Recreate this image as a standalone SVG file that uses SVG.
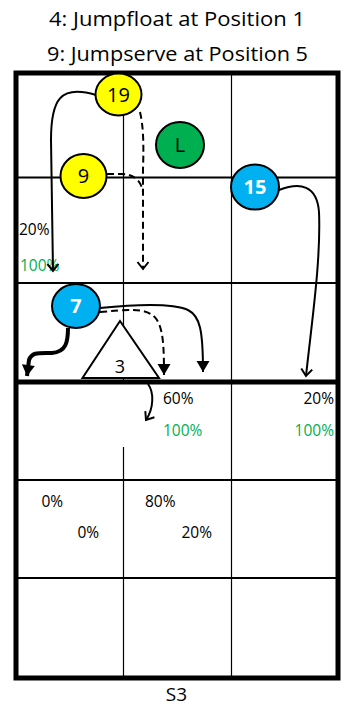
<svg xmlns="http://www.w3.org/2000/svg" width="348" height="707" viewBox="0 0 348 707">
<style>
.t{font-family:"Open Sans","Noto Sans","Liberation Sans",sans-serif;fill:#000}
.title{font-size:19.5px}
.pct{font-size:15.5px}
.g{fill:#00B050}
.num{font-size:20px;text-anchor:middle}
.wb{fill:#fff;font-weight:bold}
.hl{stroke:#000;stroke-width:1.8;fill:none}
.vl{stroke:#000;stroke-width:1.2;fill:none}
.node{stroke:#000;stroke-width:2}
.c{fill:none;stroke:#000;stroke-width:2}
.d{stroke-dasharray:7 4}
</style>
<defs>
<marker id="open" markerUnits="userSpaceOnUse" markerWidth="16" markerHeight="16" viewBox="-10 -8 12 16" refX="0" refY="0" orient="auto">
<path d="M-7,-5.5 L0,0 L-7,5.5" fill="none" stroke="#000" stroke-width="2"/>
</marker>
<marker id="fill" markerUnits="userSpaceOnUse" markerWidth="16" markerHeight="16" viewBox="-12 -8 14 16" refX="0" refY="0" orient="auto">
<path d="M-11,-6.5 L0,0 L-11,6.5 Z" fill="#000"/>
</marker>
</defs>
<rect width="348" height="707" fill="#fff"/>
<text class="t title" x="177" y="26" text-anchor="middle" textLength="256" lengthAdjust="spacingAndGlyphs">4: Jumpfloat at Position 1</text>
<text class="t title" x="177.5" y="61" text-anchor="middle" textLength="261" lengthAdjust="spacingAndGlyphs">9: Jumpserve at Position 5</text>
<g id="court">
<line class="hl" x1="16" y1="177.5" x2="338" y2="177.5"/>
<line class="hl" x1="16" y1="283" x2="338" y2="283"/>
<line class="hl" x1="16" y1="480" x2="338" y2="480"/>
<line class="hl" x1="16" y1="578" x2="338" y2="578"/>
<line class="vl" x1="123.5" y1="73" x2="123.5" y2="382"/>
<line class="vl" x1="123.5" y1="447" x2="123.5" y2="678"/>
<line class="vl" x1="231.5" y1="73" x2="231.5" y2="678"/>
<line x1="16" y1="382" x2="338" y2="382" stroke="#000" stroke-width="5"/>
<rect x="16" y="73" width="322" height="605" fill="none" stroke="#000" stroke-width="5"/>
</g>
<g id="labels">
<text class="t pct" x="19" y="235">20%</text>
<text class="t pct g" x="20" y="271">100%</text>
<text class="t pct" x="163" y="404">60%</text>
<text class="t pct g" x="163" y="436">100%</text>
<text class="t pct" x="334" y="404" text-anchor="end">20%</text>
<text class="t pct g" x="334" y="436" text-anchor="end">100%</text>
<text class="t pct" x="41.5" y="507">0%</text>
<text class="t pct" x="77.5" y="538">0%</text>
<text class="t pct" x="145" y="507">80%</text>
<text class="t pct" x="181.5" y="538">20%</text>
</g>
<g id="player3">
<polygon points="120,321 82.5,378 159,378" fill="#fff" stroke="#000" stroke-width="2"/>
<text class="t num" x="120" y="373" style="font-size:18px">3</text>
</g>
<g id="connectors">
<path class="c" d="M96,95 C60,84 51,100 51,140 L53,271" marker-end="url(#open)"/>
<path class="c d" d="M140,112 C143,125 144,140 143,170 L143,269" marker-end="url(#open)"/>
<path class="c d" d="M107,174 L122,174 C133,174 141,180 143,192"/>
<path class="c" d="M279,190 C300,182 317,185 319,212 C321,260 312,320 306,376" marker-end="url(#open)"/>
<path class="c" d="M100,308 C130,305 170,302 188,310 C200,316 203,330 203,372" marker-end="url(#fill)"/>
<path class="c d" d="M100,312 C125,310 148,306 157,320 C163,330 164,345 164,375" marker-end="url(#fill)"/>
<path class="c" style="stroke-width:4" d="M68,328 C68,342 66,352 52,353 C38,353 32,352 29,360 L27,376" marker-end="url(#fill)"/>
<path class="c" d="M148,384 C154,392 154,408 146,420" marker-end="url(#open)"/>
</g>
<g id="p19">
<ellipse class="node" cx="118.5" cy="94.5" rx="23" ry="21" fill="#FFFF00"/>
<text class="t num" x="118.5" y="101.5">19</text>
</g>
<g id="p9">
<ellipse class="node" cx="83.5" cy="176" rx="23" ry="22" fill="#FFFF00"/>
<text class="t num" x="83.5" y="183">9</text>
</g>
<g id="pL">
<ellipse class="node" cx="180" cy="145" rx="24" ry="23" fill="#00B050"/>
<text class="t num" x="180" y="152">L</text>
</g>
<g id="p15">
<ellipse class="node" cx="255" cy="187" rx="24" ry="22.5" fill="#00B0F0"/>
<text class="t num wb" x="255" y="194">15</text>
</g>
<g id="p7">
<ellipse class="node" cx="76" cy="306" rx="24" ry="22" fill="#00B0F0"/>
<text class="t num wb" x="76" y="313">7</text>
</g>
<text class="t" x="176.5" y="701" text-anchor="middle" style="font-size:19px">S3</text>
</svg>
